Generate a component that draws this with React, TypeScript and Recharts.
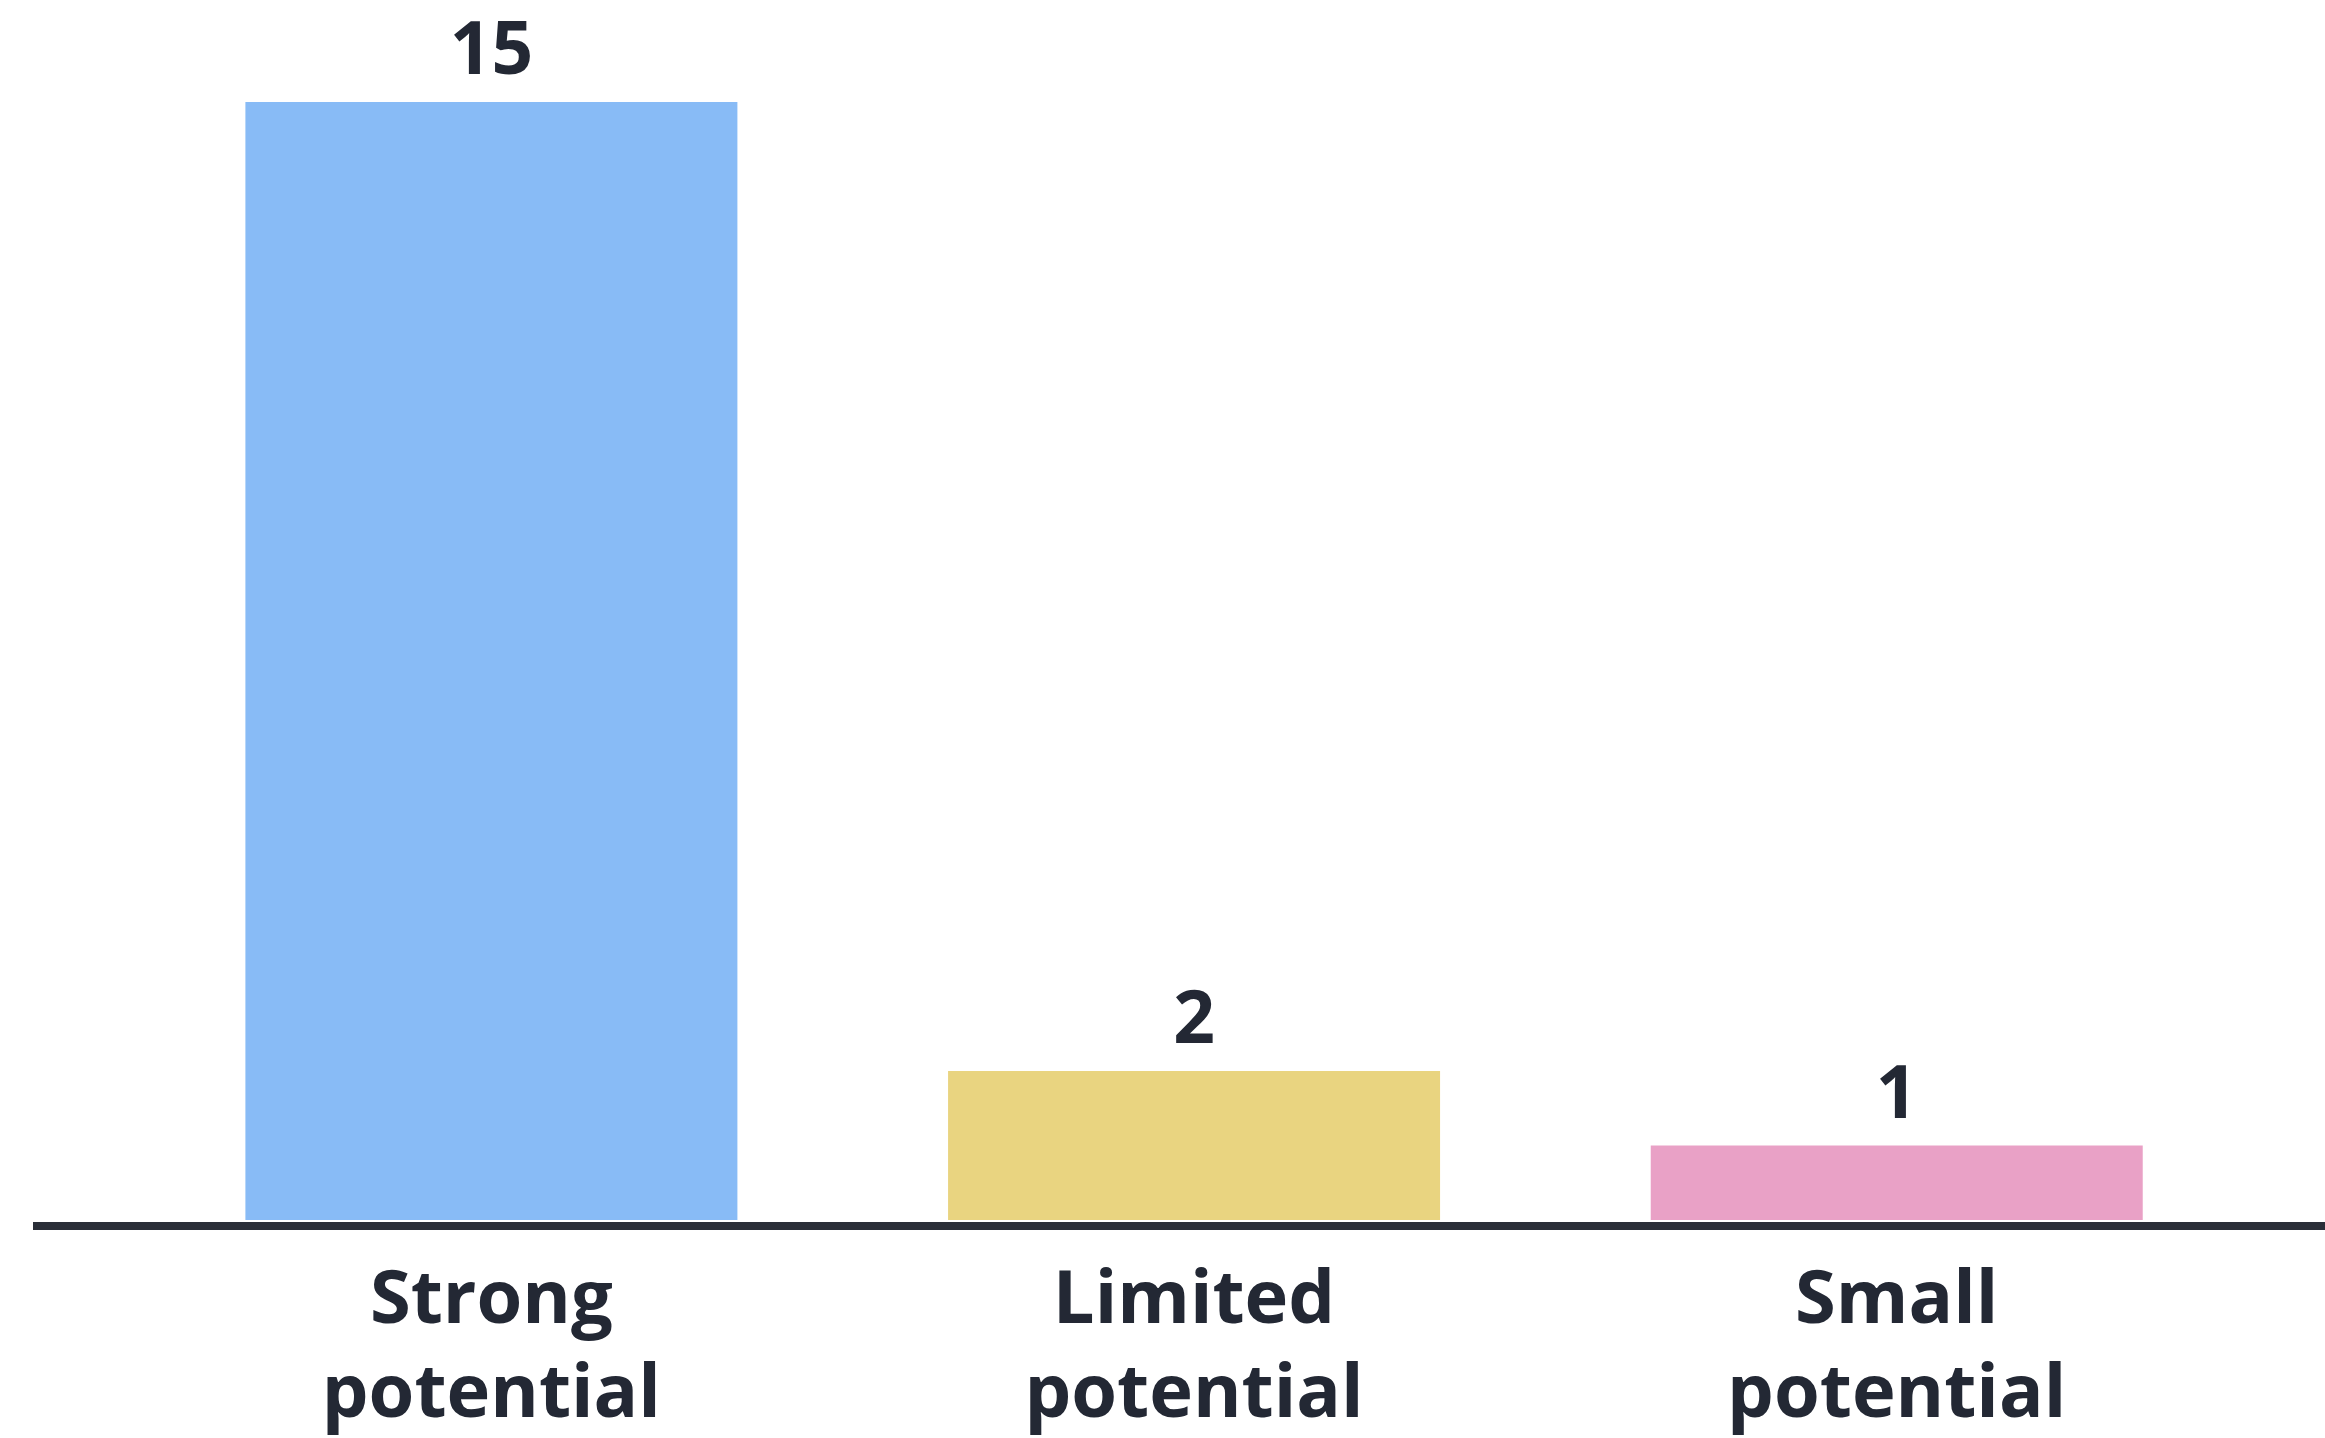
import { BarChart, Bar, XAxis, YAxis, Cell, LabelList } from 'recharts';

const categories = ['Strong potential', 'Limited potential', 'Small potential'];
const counts = [15, 2, 1];
const colors = ['#88bbf6', '#e9d480', '#e9a1c6'];

const data = categories.map((name, i) => ({ name, count: counts[i] }));

const FONT = '"Open Sans", "Noto Sans", sans-serif';
const INK = '#232834';

function CategoryTick(props: any) {
   const { x, y, payload } = props;
   const words = String(payload.value).split(' ');
   return (
      <text
         x={x}
         y={y}
         textAnchor="middle"
         fill={INK}
         fontFamily={FONT}
         fontWeight={700}
         fontSize={74}
      >
         <tspan x={x} dy={97}>{words[0]}</tspan>
         <tspan x={x} dy={94}>{words.slice(1).join(' ')}</tspan>
      </text>
   );
}

export default function App() {
   return (
      <div style={{ position: 'absolute', left: 0, top: 0, width: 2325, height: 1438, background: '#fff' }}>
         <BarChart
            width={2325}
            height={1438}
            data={data}
            margin={{ top: 102, right: 0, bottom: 182, left: 33 }}
            barCategoryGap="15%"
         >
            <XAxis
               dataKey="name"
               height={30}
               axisLine={{ stroke: '#2a2e38', strokeWidth: 8 }}
               tickLine={false}
               tickSize={0}
               tickMargin={0}
               padding={{ left: 107, right: 77 }}
               interval={0}
               tick={<CategoryTick />}
            />
            <YAxis hide domain={[-0.08, 15]} allowDataOverflow />
            <Bar dataKey="count" isAnimationActive={false}>
               {data.map((d, i) => (
                  <Cell key={d.name} fill={colors[i]} />
               ))}
               <LabelList
                  dataKey="count"
                  position="top"
                  offset={28}
                  fill={INK}
                  fontFamily={FONT}
                  fontWeight={700}
                  fontSize={73}
               />
            </Bar>
         </BarChart>
      </div>
   );
}
